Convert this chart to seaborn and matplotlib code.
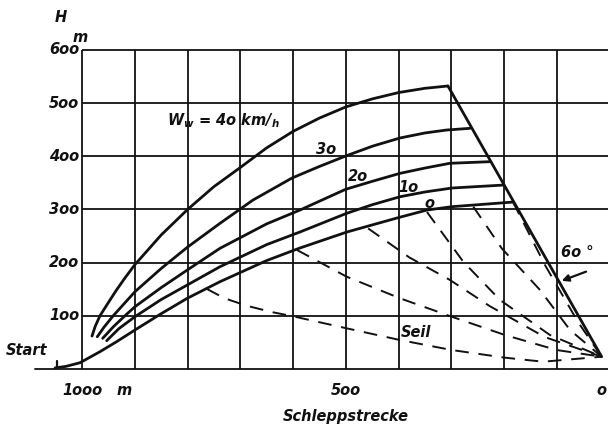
import numpy as np
import pandas as pd
import matplotlib
matplotlib.use("Agg")
import matplotlib.pyplot as plt
import seaborn as sns

# climb curves H over remaining tow distance, for head wind W_w (km/h)
d_w40 = [981.0, 975.0, 966.0, 950.0, 935.0, 918.0, 900.0, 850.0, 800.0, 750.0, 700.0,
         650.0, 600.0, 550.0, 500.0, 450.0, 400.0, 350.0, 306.6]
h_w40 = [62.0, 80.0, 100.0, 125.0, 148.0, 172.0, 196.0, 252.0, 300.0, 343.0, 379.0,
         416.0, 447.0, 472.0, 493.0, 508.0, 520.0, 528.0, 532.3]

d_w30 = [971.0, 958.0, 940.7, 920.0, 899.6, 850.0, 800.5, 738.5, 676.0, 602.1, 550.0,
         500.4, 450.0, 397.5, 350.0, 309.0, 264.9]
h_w30 = [60.7, 79.0, 100.2, 123.0, 145.4, 189.0, 228.9, 274.0, 317.8, 359.2, 381.0,
         400.6, 419.0, 434.5, 444.0, 449.5, 452.7]

d_w20 = [960.8, 940.0, 918.5, 899.6, 850.0, 800.5, 738.5, 650.0, 587.0, 500.4, 450.0,
         397.5, 350.0, 303.0, 228.0]
h_w20 = [57.7, 80.0, 100.2, 117.2, 153.0, 186.2, 227.0, 273.0, 299.0, 338.0, 353.0,
         368.0, 378.0, 386.9, 389.9]

d_w10 = [953.2, 930.0, 899.6, 850.0, 800.5, 738.5, 650.0, 587.0, 498.6, 450.0, 397.5,
         350.0, 299.0, 201.0]
h_w10 = [53.2, 76.0, 98.4, 130.6, 158.0, 192.4, 234.0, 257.7, 292.8, 309.0, 324.0,
         333.0, 340.4, 346.0]

d_w0 = [1051.0, 1030.0, 1003.8, 966.0, 935.0, 899.6, 850.0, 800.5, 738.5, 650.0, 587.0,
        497.9, 403.2, 346.4, 299.0, 183.4]
h_w0 = [2.0, 5.0, 11.8, 32.5, 51.0, 73.4, 104.0, 133.0, 164.2, 204.0, 227.6,
        257.7, 284.0, 299.0, 305.3, 314.0]

# 60 degree line through the winch
diag_d = [306.6, 15.4]
diag_h = [532.3, 23.1]

# tow cable (Seil) shapes for W_w = 0
seil_d = [
    [763.2, 730.0, 688.0, 640.0, 602.7, 498.5, 397.5, 299.6, 198.6, 126.6, 15.4],
    [592.6, 498.5, 397.5, 299.6, 198.6, 100.6, 15.4],
    [457.8, 380.0, 302.8, 227.0, 123.0, 15.4],
    [346.4, 277.6, 208.0, 113.3, 15.4],
    [258.6, 204.8, 132.2, 75.4, 15.4],
    [183.4, 122.8, 60.0, 15.4],
]
seil_h = [
    [150.5, 133.0, 119.0, 107.0, 99.7, 76.5, 54.5, 35.7, 21.3, 13.7, 23.1],
    [223.8, 173.6, 133.0, 98.4, 63.9, 35.7, 23.1],
    [264.4, 210.0, 167.4, 118.0, 60.0, 23.1],
    [295.3, 201.8, 129.8, 63.9, 23.1],
    [305.3, 227.0, 148.6, 73.4, 23.1],
    [314.0, 195.6, 88.0, 23.1],
]

grid_x = [1000, 900, 800, 700, 600, 500, 400, 300, 200, 100]
grid_y = [100, 200, 300, 400, 500, 600]
ytick_labels = ["1oo", "2oo", "3oo", "4oo", "5oo", "6oo"]

sns.set_style("white")
plt.rcParams["font.family"] = ["DejaVu Sans"]
plt.rcParams["mathtext.fontset"] = "custom"
plt.rcParams["mathtext.it"] = "DejaVu Sans:italic:bold"
plt.rcParams["mathtext.rm"] = "DejaVu Sans:italic:bold"

fig = plt.figure(figsize=(6.08, 4.29), dpi=100)
ax = fig.add_axes([35 / 608, 60 / 429, 573 / 608, 319 / 429])

ink = "#111111"
txt = dict(color=ink, fontstyle="italic", fontweight="bold", fontsize=10.5)

# grid
ax.vlines(grid_x, 0, 600, color=ink, lw=1.3, clip_on=False, zorder=1)
ax.hlines(grid_y, grid_x[0], 0, color=ink, lw=1.3, clip_on=False, zorder=1)
ax.axhline(0, color=ink, lw=1.3, clip_on=False, zorder=1)

# climb curves
for d, h in [(d_w40, h_w40), (d_w30, h_w30), (d_w20, h_w20), (d_w10, h_w10), (d_w0, h_w0)]:
    sns.lineplot(x=d, y=h, sort=False, estimator=None, color=ink, lw=2.0, ax=ax)

sns.lineplot(x=diag_d, y=diag_h, sort=False, estimator=None, color=ink, lw=2.0, ax=ax)

for d, h in zip(seil_d, seil_h):
    sns.lineplot(x=d, y=h, sort=False, estimator=None, color=ink, lw=1.4,
                 linestyle=(0, (7, 5)), ax=ax)

# start mark
ax.plot([1048, 1048], [0, 15], color=ink, lw=1.6)

ax.set_xlim(1089, 3.4)
ax.set_ylim(0, 600)
for s in ax.spines.values():
    s.set_visible(False)
ax.set_xticks([])
ax.set_yticks([])

# axis labels
for y, lab in zip(grid_y, ytick_labels):
    ax.text(1005, y, lab, ha="right", va="center", clip_on=False, **txt)
ax.text(1040, 662, "H", ha="center", va="center", clip_on=False, **txt)
ax.text(1004, 624, "m", ha="center", va="center", clip_on=False, **txt)
ax.text(1000, -40, "1ooo", ha="center", va="center", clip_on=False, **txt)
ax.text(920, -40, "m", ha="center", va="center", clip_on=False, **txt)
ax.text(500, -40, "5oo", ha="center", va="center", clip_on=False, **txt)
ax.text(7.0, -40, "o", ha="right", va="center", clip_on=False, **txt)
ax.text(500, -90, "Schleppstrecke", ha="center", va="center", clip_on=False, **txt)
ax.text(1104, 35, "Start", ha="center", va="center", clip_on=False, **txt)

# curve labels
ax.text(839, 468, r"$W_w$ = 4o km/$_h$", ha="left", va="center", **txt)
ax.text(538, 412, "3o", ha="center", va="center", **txt)
ax.text(477, 363, "2o", ha="center", va="center", **txt)
ax.text(382, 342, "1o", ha="center", va="center", **txt)
ax.text(342, 312, "o", ha="center", va="center", **txt)
ax.text(367, 68, "Seil", ha="center", va="center", **txt)
ax.text(62, 220, "6o °", ha="center", va="center", **txt)
ax.annotate("", xy=(96, 164), xytext=(40, 185),
            arrowprops=dict(arrowstyle="-|>", color=ink, lw=1.6, mutation_scale=10))

fig.savefig("out.png", dpi=100)
